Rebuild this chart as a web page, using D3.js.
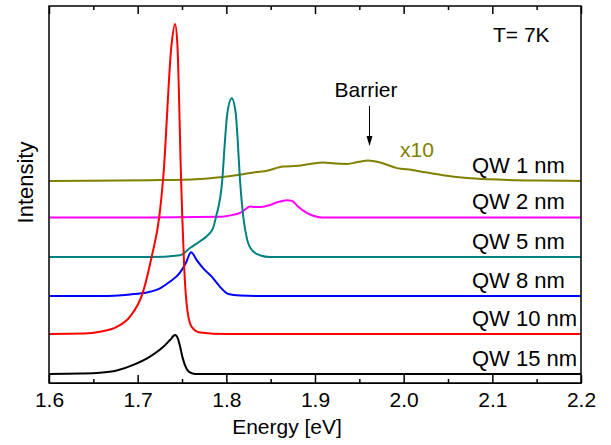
<!DOCTYPE html>
<html>
<head>
<meta charset="utf-8">
<script src="https://cdn.jsdelivr.net/npm/d3@7"></script>
<style>
  body { margin: 0; background: #fff; }
  text { font-family: Arial, "Liberation Sans", sans-serif; }
</style>
</head>
<body>
<div id="wrapper"></div>
<script>
// spectra, intensity relative to own baseline (arb. units)
const qw1E = [1.60, 1.7139, 1.7511, 1.7703, 1.7895, 1.8188, 1.8323, 1.8459, 1.8639, 1.8808, 1.8944, 1.9090, 1.9226, 1.9361, 1.9485, 1.9598, 1.9733, 1.9925, 2.0094, 2.0241, 2.0444, 2.0748, 2.1120, 2.1504, 2.20]
const qw1I = [0, 0.02, 0.03, 0.05, 0.09, 0.18, 0.23, 0.27, 0.38, 0.40, 0.45, 0.49, 0.46, 0.45, 0.50, 0.54, 0.49, 0.34, 0.29, 0.23, 0.15, 0.07, 0.03, 0.01, 0]

const qw2E = [1.60, 1.7026, 1.7929, 1.8075, 1.8154, 1.8210, 1.8267, 1.8323, 1.8391, 1.8492, 1.8582, 1.8681, 1.8741, 1.8808, 1.8906, 1.8989, 1.9079, 2.20]
const qw2I = [0, 0, 0.02, 0.07, 0.12, 0.21, 0.29, 0.28, 0.28, 0.33, 0.41, 0.46, 0.44, 0.29, 0.12, 0.04, 0, 0]

const qw5E = [1.60, 1.7139, 1.7477, 1.7590, 1.7703, 1.7782, 1.7850, 1.7883, 1.7954, 1.7985, 1.8011, 1.8061, 1.8106, 1.8128, 1.8154, 1.8191, 1.8236, 1.8286, 1.8380, 1.8492, 2.20]
const qw5I = [0, 0, 0.05, 0.24, 0.42, 0.56, 0.77, 1.06, 2.04, 3.10, 3.81, 4.21, 3.81, 3.10, 2.04, 1.07, 0.45, 0.19, 0.05, 0, 0]

const qw8E = [1.60, 1.6575, 1.6914, 1.7102, 1.7252, 1.7365, 1.7477, 1.7545, 1.7602, 1.7666, 1.7740, 1.7835, 1.7929, 1.8022, 1.8154, 1.8380, 2.20]
const qw8I = [0, 0, 0.04, 0.09, 0.20, 0.38, 0.62, 0.88, 1.16, 0.95, 0.73, 0.51, 0.24, 0.05, 0.01, 0, 0]

const qw10E = [1.60, 1.64, 1.6575, 1.6764, 1.6914, 1.7057, 1.7158, 1.7244, 1.7289, 1.7384, 1.7421, 1.7447, 1.7489, 1.7503, 1.7526, 1.7560, 1.7609, 1.7703, 1.80, 2.20]
const qw10I = [0, 0.01, 0.06, 0.19, 0.46, 1.09, 2.05, 3.11, 4.17, 7.72, 8.22, 7.72, 4.17, 3.11, 1.70, 0.64, 0.19, 0.04, 0, 0]

const qw15E = [1.60, 1.635, 1.6575, 1.6764, 1.6951, 1.7139, 1.7289, 1.7365, 1.7421, 1.7455, 1.7477, 1.7508, 1.7553, 1.7590, 1.7647, 2.20]
const qw15I = [0, 0.01, 0.03, 0.09, 0.24, 0.46, 0.72, 0.90, 1.03, 0.93, 0.74, 0.42, 0.13, 0.04, 0, 0]

const labels = ["QW 1 nm", "QW 2 nm", "QW 5 nm", "QW 8 nm", "QW 10 nm", "QW 15 nm"]
const offsets = [5.36, 4.39, 3.34, 2.31, 1.30, 0.24]
const xTicks = [1.6, 1.7, 1.8, 1.9, 2.0, 2.1, 2.2]

const spectra = [
    [qw1E, qw1I], [qw2E, qw2I], [qw5E, qw5I],
    [qw8E, qw8I], [qw10E, qw10I], [qw15E, qw15I]
]
const colors = ["#808000", "#ff00ff", "#008080", "#0000ff", "#ff0000", "#000000"]

function drawChart() {
    let dimensions = {
        width: 611,
        height: 445,
        margin: { top: 6, right: 30, bottom: 62, left: 49 },
    }
    dimensions.boundedWidth = dimensions.width - dimensions.margin.left - dimensions.margin.right
    dimensions.boundedHeight = dimensions.height - dimensions.margin.top - dimensions.margin.bottom

    const wrapper = d3.select("#wrapper")
        .append("svg")
        .attr("width", dimensions.width)
        .attr("height", dimensions.height)

    const bounds = wrapper.append("g")
        .attr("transform", `translate(${dimensions.margin.left},${dimensions.margin.top})`)

    const xScaler = d3.scaleLinear()
        .domain([1.6, 2.2])
        .range([0, dimensions.boundedWidth])

    const yScaler = d3.scaleLinear()
        .domain([0, 10])
        .range([dimensions.boundedHeight, 0])

    const lineGen = d3.line()
        .x(d => xScaler(d[0]))
        .y(d => yScaler(d[1]))
        .curve(d3.curveMonotoneX)

    spectra.forEach(([es, is], i) => {
        const pts = es.map((e, j) => [e, is[j] + offsets[i]])
        bounds.append("path")
            .attr("d", lineGen(pts))
            .attr("fill", "none")
            .attr("stroke", colors[i])
            .attr("stroke-width", 2)
            .attr("stroke-linejoin", "round")
    })

    // minor ticks every 0.05
    const minorTicks = d3.range(1.65, 2.2, 0.1)

    const xAxisGen = d3.axisBottom(xScaler)
        .tickValues(xTicks)
        .tickFormat(d3.format(".1f"))
        .tickSizeInner(-8)
        .tickSizeOuter(0)
        .tickPadding(9)
    const xAxis = bounds.append("g")
        .attr("transform", `translate(0,${dimensions.boundedHeight})`)
        .call(xAxisGen)
    xAxis.selectAll("text")
        .attr("font-size", "21px")
        .attr("fill", "black")
        .attr("dy", "0.71em")
    xAxis.selectAll("line").attr("stroke-width", 1.5)

    const xMinorGen = d3.axisBottom(xScaler).tickValues(minorTicks).tickSize(-4).tickFormat("")
    bounds.append("g")
        .attr("transform", `translate(0,${dimensions.boundedHeight})`)
        .call(xMinorGen)
        .call(g => g.select(".domain").remove())
        .selectAll("line").attr("stroke-width", 1.5)

    const topGen = d3.axisTop(xScaler).tickValues(xTicks).tickSize(-8).tickFormat("")
    bounds.append("g").call(topGen)
        .call(g => g.select(".domain").remove())
        .selectAll("line").attr("stroke-width", 1.5)
    const topMinorGen = d3.axisTop(xScaler).tickValues(minorTicks).tickSize(-4).tickFormat("")
    bounds.append("g").call(topMinorGen)
        .call(g => g.select(".domain").remove())
        .selectAll("line").attr("stroke-width", 1.5)

    // frame
    bounds.append("rect")
        .attr("width", dimensions.boundedWidth)
        .attr("height", dimensions.boundedHeight)
        .attr("fill", "none")
        .attr("stroke", "black")
        .attr("stroke-width", 1.5)

    // curve labels
    bounds.selectAll(".qw")
        .data(labels)
        .enter()
        .append("text")
        .attr("x", 423)
        .attr("y", (d, i) => yScaler(offsets[i]) - 8)
        .text(d => d)
        .attr("font-size", "22px")
        .attr("fill", "black")

    bounds.append("text")
        .attr("x", 444)
        .attr("y", 36)
        .text("T= 7K")
        .attr("font-size", "21px")
        .attr("fill", "black")

    bounds.append("text")
        .attr("x", 317)
        .attr("y", 91)
        .text("Barrier")
        .attr("font-size", "21px")
        .attr("text-anchor", "middle")
        .attr("fill", "black")

    const ax = 320.5
    bounds.append("line")
        .attr("x1", ax).attr("x2", ax)
        .attr("y1", 100).attr("y2", 132)
        .attr("stroke", "black")
        .attr("stroke-width", 1)
    bounds.append("path")
        .attr("d", `M${ax - 3},${130} L${ax + 3},${130} L${ax},${140} Z`)
        .attr("fill", "black")

    bounds.append("text")
        .attr("x", 351)
        .attr("y", 151)
        .text("x10")
        .attr("font-size", "21px")
        .attr("fill", "#808000")

    bounds.append("text")
        .attr("x", 238)
        .attr("y", dimensions.boundedHeight + 51)
        .text("Energy [eV]")
        .attr("font-size", "21px")
        .attr("text-anchor", "middle")
        .attr("fill", "black")

    bounds.append("text")
        .attr("transform", `translate(-16,${dimensions.boundedHeight / 2 - 12}) rotate(-90)`)
        .text("Intensity")
        .attr("font-size", "22px")
        .attr("text-anchor", "middle")
        .attr("fill", "black")
}

drawChart()
</script>
</body>
</html>
